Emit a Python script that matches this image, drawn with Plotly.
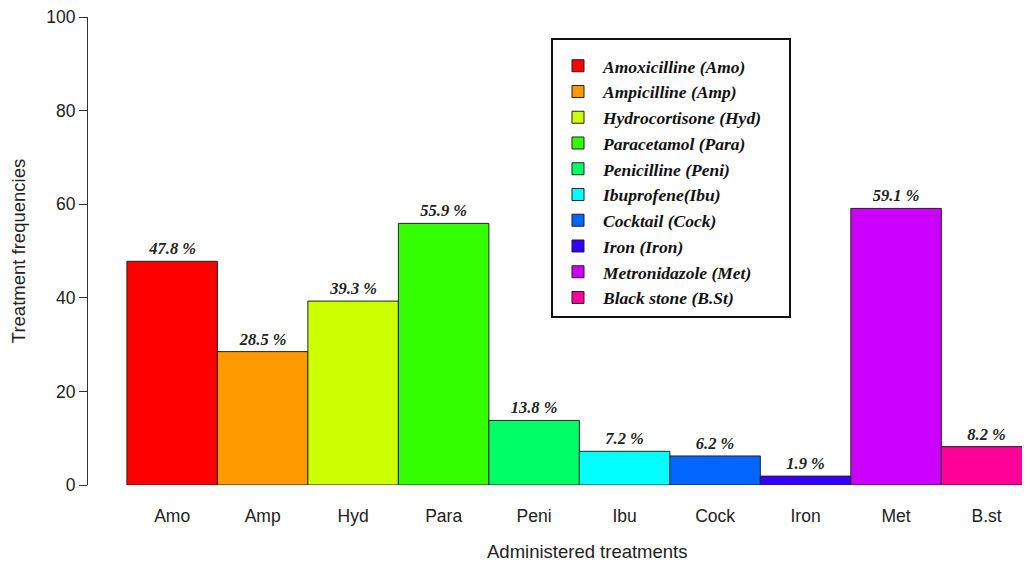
import plotly.graph_objects as go

categories = ["Amo", "Amp", "Hyd", "Para", "Peni", "Ibu", "Cock", "Iron", "Met", "B.st"]
names = ["Amoxicilline (Amo)", "Ampicilline (Amp)", "Hydrocortisone (Hyd)", "Paracetamol (Para)",
         "Penicilline (Peni)", "Ibuprofene(Ibu)", "Cocktail (Cock)", "Iron (Iron)",
         "Metronidazole (Met)", "Black stone (B.St)"]
values = [47.8, 28.5, 39.3, 55.9, 13.8, 7.2, 6.2, 1.9, 59.1, 8.2]
labels = ["47.8 %", "28.5 %", "39.3 %", "55.9 %", "13.8 %", "7.2 %", "6.2 %", "1.9 %", "59.1 %", "8.2 %"]
colors = ["#FF0000", "#FF9900", "#CCFF00", "#33FF00", "#00FF66",
          "#00FFFF", "#0066FF", "#3300FF", "#CC00FF", "#FF0099"]

fig = go.Figure()
for i, cat in enumerate(categories):
    fig.add_trace(go.Bar(
        x=[i], y=[values[i]], name=names[i] + "\u00a0" * 5, width=1,
        marker=dict(color=colors[i], line=dict(color="#222222", width=1)),
        text=[labels[i]], textposition="outside", cliponaxis=False,
        textfont=dict(family="Liberation Serif", size=16.5, color="#222222", style="italic", weight="bold"),
        legendgroup=f"g{i}",
    ))

fig.update_layout(
    width=1022, height=559,
    margin=dict(l=80, r=0, t=9, b=82),
    plot_bgcolor="white", paper_bgcolor="white",
    barmode="overlay",
    showlegend=True,
    legend=dict(
        x=0.4915, y=0.955, xanchor="left", yanchor="top",
        bordercolor="#111111", borderwidth=2, bgcolor="white",
        font=dict(family="Liberation Serif", size=17.5, color="#111111", style="italic", weight="bold"),
        tracegroupgap=0, itemwidth=40,
        title=dict(text="\u00a0", font=dict(size=6)),
    ),
    font=dict(family="Liberation Sans", size=17.5, color="#222222"),
    annotations=[dict(
        text="Administered treatments", xref="paper", yref="paper",
        x=0.53, y=-0.143, xanchor="center", yanchor="middle", showarrow=False,
        font=dict(family="Liberation Sans", size=18.5, color="#222222"),
    )],
)
fig.update_xaxes(
    range=[-0.93, 9.48], tickmode="array", tickvals=list(range(len(categories))),
    ticktext=categories, showgrid=False, zeroline=False, showline=False,
    ticks="", ticklabelstandoff=18,
)
fig.update_yaxes(
    range=[0, 100], tickvals=[0, 20, 40, 60, 80, 100], showgrid=False, zeroline=False,
    showline=True, linecolor="#333333", linewidth=1, ticks="outside", ticklen=8,
    tickcolor="#333333", ticklabeloverflow="allow",
    title=dict(text="Treatment frequencies", standoff=16, font=dict(size=18.5)),
)

fig.write_html("out.html")
